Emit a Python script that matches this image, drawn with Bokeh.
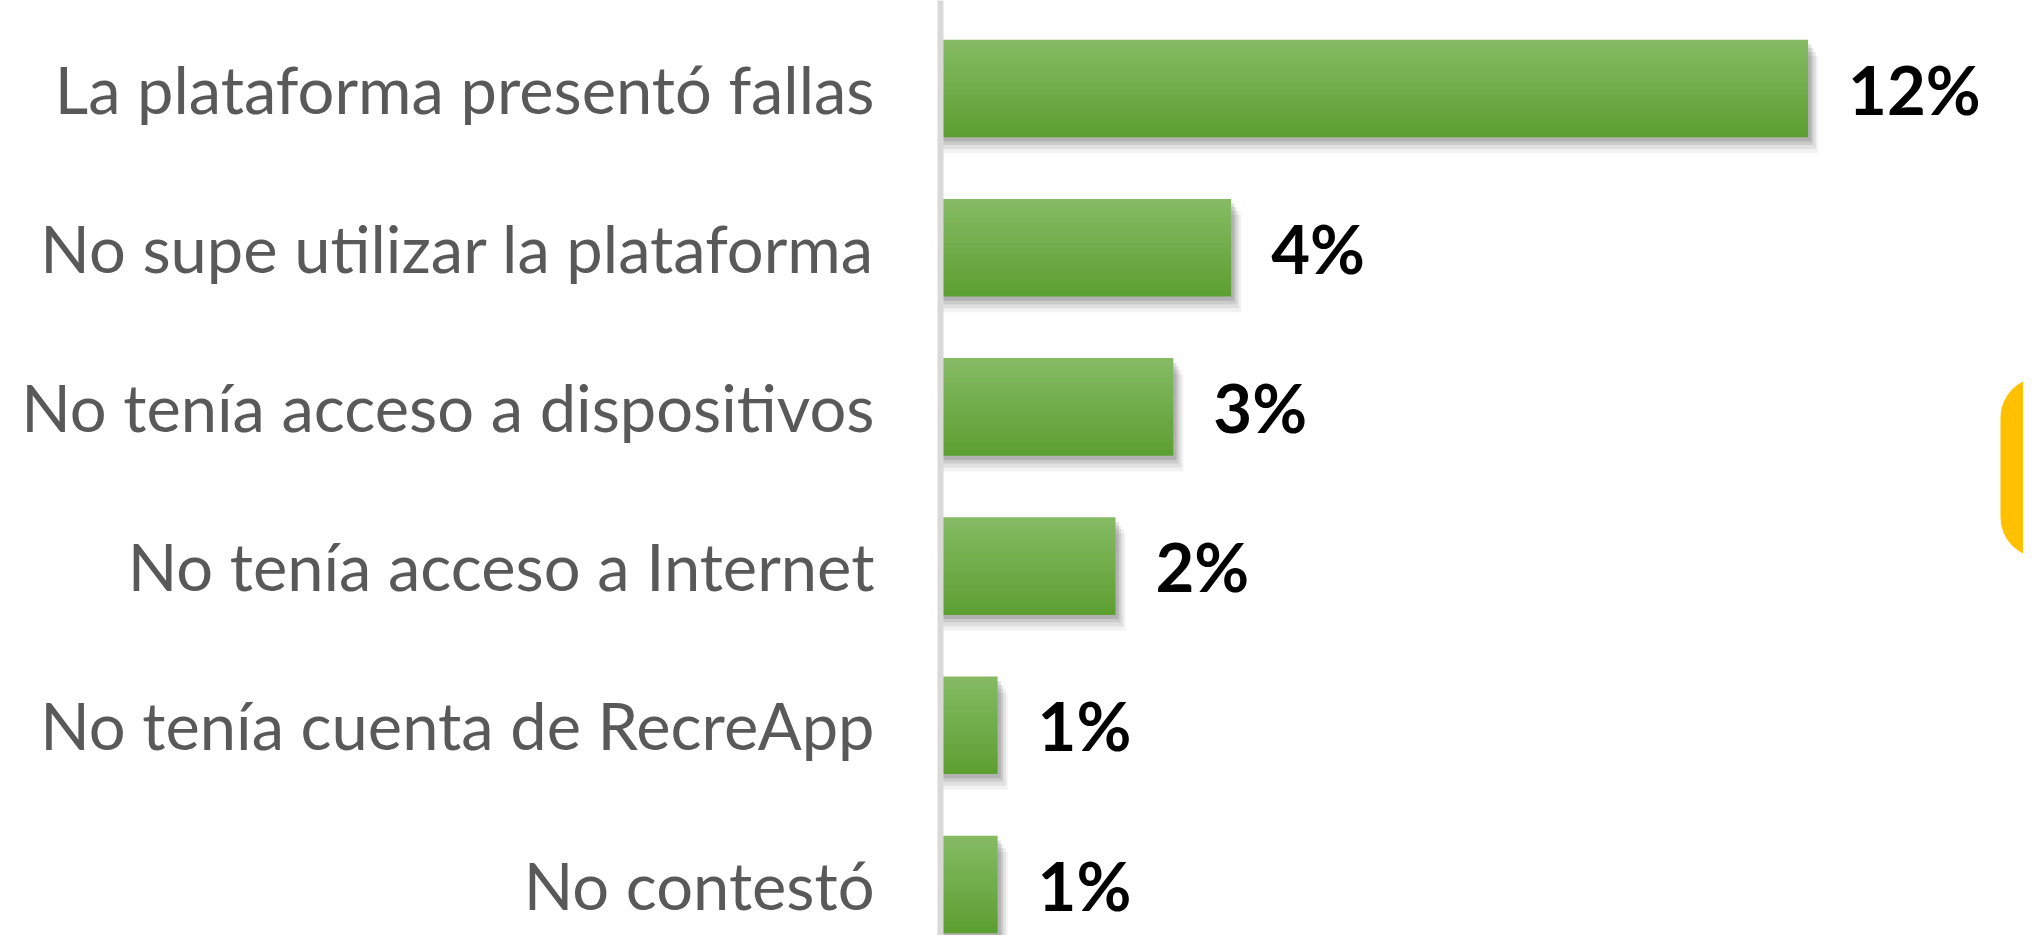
from bokeh.plotting import figure
from bokeh.models import ColumnDataSource, Range1d, FixedTicker, LinearAxis, BoxAnnotation
from bokeh.transform import dodge
from bokeh.core.properties import value
from bokeh.embed import file_html
from bokeh.resources import INLINE

categories = [
    "La plataforma presentó fallas",
    "No supe utilizar la plataforma",
    "No tenía acceso a dispositivos",
    "No tenía acceso a Internet",
    "No tenía cuenta de RecreApp",
    "No contestó",
]
values = [12.0, 4.02, 3.22, 2.42, 0.79, 0.79]
labels = ["12%", "4%", "3%", "2%", "1%", "1%"]

ypos = list(range(len(categories)))
src = ColumnDataSource(dict(y=ypos, v=values, lab=labels))

W, H = 2023, 935
LEFT = 940
PX_X = 72.3
PX_Y = 159.2
Y_TOP = -88 / PX_Y
y_bottom = Y_TOP + H / PX_Y
x_end = (W - LEFT) / PX_X

p = figure(width=W, height=H, output_backend="svg", toolbar_location=None,
           x_range=Range1d(0, x_end), y_range=Range1d(y_bottom, Y_TOP),
           x_axis_location=None, y_axis_location=None,
           min_border_left=LEFT, min_border_right=0, min_border_top=0, min_border_bottom=0)
p.outline_line_color = None
p.xgrid.visible = False
p.ygrid.visible = False
p.background_fill_color = "white"
p.border_fill_color = "white"

BAR_H = 0.61

# shadow layers
for dy, dx, a in [(0.1, 0.14, 0.05), (0.075, 0.11, 0.07), (0.05, 0.075, 0.09), (0.028, 0.045, 0.12)]:
    p.hbar(y=dodge("y", dy, range=p.y_range), left=0, right=dodge("v", dx, range=p.x_range),
           height=BAR_H, source=src, fill_color="black", fill_alpha=a, line_color=None)

# gradient bar strips
top_c = (0x86, 0xBB, 0x65)
bot_c = (0x5C, 0x9F, 0x30)
N = 16
for k in range(N):
    t = (k + 0.5) / N
    c = tuple(int(round(top_c[i] + (bot_c[i] - top_c[i]) * t)) for i in range(3))
    col = "#%02x%02x%02x" % c
    off = -BAR_H / 2 + (k + 0.5) * BAR_H / N
    p.hbar(y=dodge("y", off, range=p.y_range), left=0, right="v",
           height=BAR_H / N * 1.08, source=src, fill_color=col, line_color=None)

# value labels
p.text(x="v", y="y", text="lab", source=src, x_offset=40,
       text_font=value("Lato"), text_font_style="bold", text_font_size="67px",
       text_color="black", text_baseline="middle", text_align="left")

# left category axis
ax = LinearAxis(ticker=FixedTicker(ticks=ypos),
                major_label_overrides={i: c for i, c in zip(ypos, categories)})
ax.axis_line_color = "#D9D9D9"
ax.axis_line_width = 6
ax.major_tick_line_color = None
ax.minor_tick_line_color = None
ax.major_label_text_font = "Lato"
ax.major_label_text_font_size = "65px"
ax.major_label_text_color = "#595959"
ax.major_label_standoff = 60
p.add_layout(ax, "left")

# yellow decorative shape at right edge
p.add_layout(BoxAnnotation(left=(2000 - LEFT) / PX_X, right=x_end + 2,
                           top=Y_TOP + 377 / PX_Y, bottom=Y_TOP + 557 / PX_Y,
                           fill_color="#FFC000", fill_alpha=1.0, line_color=None,
                           border_radius=40))

open("out.html", "w").write(file_html(p, INLINE))
